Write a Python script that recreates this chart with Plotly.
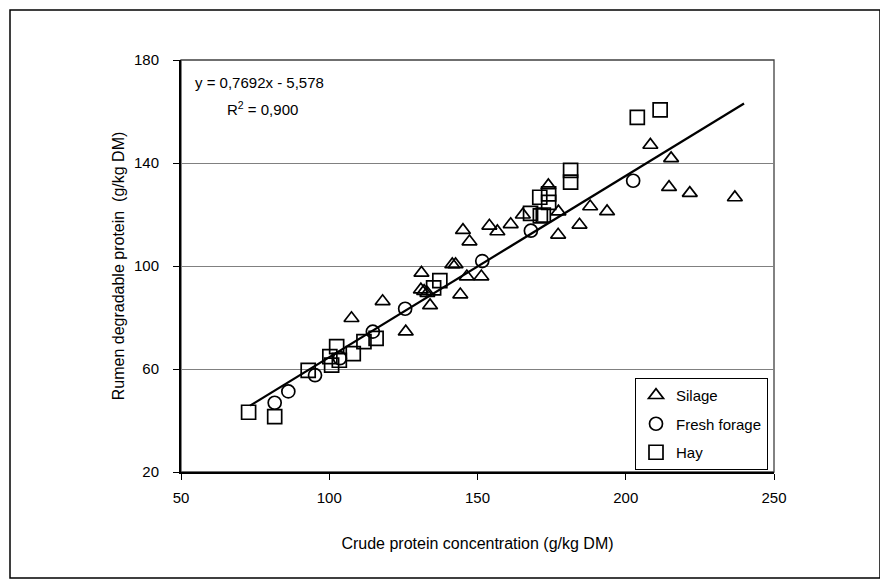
import plotly.graph_objects as go

# ---- data ----
silage_x = [107.5, 118.0, 125.8, 131.1, 130.9, 132.0, 133.1, 134.0, 141.5, 142.6,
            144.2, 145.1, 147.3, 146.4, 151.3, 154.0, 156.7, 161.2, 165.3, 173.9,
            177.3, 177.2, 184.4, 188.0, 193.7, 208.3, 215.3, 214.6, 221.6, 236.8]
silage_y = [79.7, 86.3, 74.5, 97.3, 90.8, 90.2, 89.5, 84.7, 100.6, 100.6,
            88.9, 113.9, 109.5, 95.9, 95.9, 115.6, 113.4, 116.2, 119.9, 131.3,
            121.1, 112.1, 116.0, 123.1, 121.2, 147.0, 141.8, 130.6, 128.3, 126.6]

fresh_x = [81.6, 86.2, 95.2, 103.6, 114.7, 125.6, 151.6, 168.0, 202.5]
fresh_y = [46.9, 51.3, 57.6, 64.2, 74.5, 83.4, 101.9, 113.7, 133.1]

hay_x = [72.8, 81.6, 92.9, 100.2, 102.5, 103.4, 100.8, 108.1, 111.7, 115.8,
         135.2, 137.3, 167.9, 171.0, 174.0, 174.0, 171.2, 172.2, 181.4, 181.4,
         203.9, 211.6]
hay_y = [43.2, 41.5, 59.5, 64.8, 68.7, 63.4, 61.5, 66.0, 70.6, 71.9,
         91.5, 94.3, 120.4, 126.7, 128.0, 124.7, 119.5, 119.8, 137.1, 132.6,
         157.7, 160.6]

trend_x = [73.3, 239.9]
trend_y = [45.8, 163.1]

x_ticks = [50, 100, 150, 200, 250]
y_ticks = [20, 60, 100, 140, 180]

equation_text = "y = 0,7692x - 5,578"
r2_text = "R<sup>2</sup> = 0,900"

FONT = "Liberation Sans, Arial, sans-serif"

# ---- figure (page body has an 8px default margin) ----
OFF = 8
W, H = 888 - OFF, 584 - OFF
L, R, T, B = 181 - OFF, 114, 60 - OFF, 112
pw, ph = W - L - R, H - T - B


def px_to_paper(px, py):
    # px, py are window-pixel positions
    return (px - OFF - L) / pw, (H - B - (py - OFF)) / ph


fig = go.Figure()

fig.add_trace(go.Scatter(
    x=trend_x, y=trend_y, mode="lines",
    line=dict(color="black", width=2.2),
    showlegend=False, hoverinfo="skip"))

fig.add_trace(go.Scatter(
    x=silage_x, y=silage_y, mode="markers", name="Silage", legendgroup="a",
    marker=dict(symbol="triangle-up-open", size=13, color="black",
                line=dict(color="black", width=1.7))))
fig.add_trace(go.Scatter(
    x=fresh_x, y=fresh_y, mode="markers", name="Fresh forage", legendgroup="b",
    marker=dict(symbol="circle-open", size=13, color="black",
                line=dict(color="black", width=1.7))))
fig.add_trace(go.Scatter(
    x=hay_x, y=hay_y, mode="markers", name="Hay", legendgroup="c",
    marker=dict(symbol="square-open", size=14, color="black",
                line=dict(color="black", width=1.7))))

lx, ly = px_to_paper(768, 378)
ox0, oy1 = px_to_paper(10, 10)
ox1, oy0 = px_to_paper(880, 578)
ex, ey = px_to_paper(193, 83)
rx, ry = px_to_paper(225, 109)

fig.update_layout(
    width=W, height=H,
    margin=dict(l=L, r=R, t=T, b=B, pad=0),
    paper_bgcolor="white", plot_bgcolor="white",
    font=dict(family=FONT, size=15, color="black"),
    xaxis=dict(
        range=[50, 250], tickvals=x_ticks, ticks="outside", ticklen=6,
        tickcolor="black", tickwidth=1, showgrid=False, zeroline=False,
        showline=True, linecolor="black", linewidth=2,
        ticklabelstandoff=5,
        tickfont=dict(size=15, family=FONT),
        title=dict(text="Crude protein concentration (g/kg DM)",
                   font=dict(size=16, family=FONT), standoff=33)),
    yaxis=dict(
        range=[20, 180], tickvals=y_ticks, ticks="outside", ticklen=6,
        tickcolor="black", tickwidth=1, showgrid=True, gridcolor="#808080",
        gridwidth=1, zeroline=False,
        showline=True, linecolor="black", linewidth=2,
        ticklabelstandoff=11,
        tickfont=dict(size=15, family=FONT),
        title=dict(text="Rumen degradable protein  (g/kg DM)",
                   font=dict(size=16, family=FONT), standoff=5)),
    legend=dict(
        x=lx, y=ly, xanchor="right", yanchor="top",
        bgcolor="white", bordercolor="black", borderwidth=1,
        font=dict(size=15, family=FONT),
        traceorder="grouped", tracegroupgap=6,
        itemwidth=30),
    shapes=[
        dict(type="rect", xref="paper", yref="paper", x0=0, y0=0, x1=1, y1=1,
             line=dict(color="#404040", width=1.3), layer="below"),
        dict(type="rect", xref="paper", yref="paper", x0=ox0, y0=oy0,
             x1=ox1, y1=oy1, line=dict(color="black", width=1.5)),
    ],
    annotations=[
        dict(text=equation_text, xref="paper", yref="paper", x=ex, y=ey,
             xanchor="left", yanchor="middle", showarrow=False,
             font=dict(size=15, family=FONT)),
        dict(text=r2_text, xref="paper", yref="paper", x=rx, y=ry,
             xanchor="left", yanchor="middle", showarrow=False,
             font=dict(size=15, family=FONT)),
    ],
)

fig.write_html("out.html")
